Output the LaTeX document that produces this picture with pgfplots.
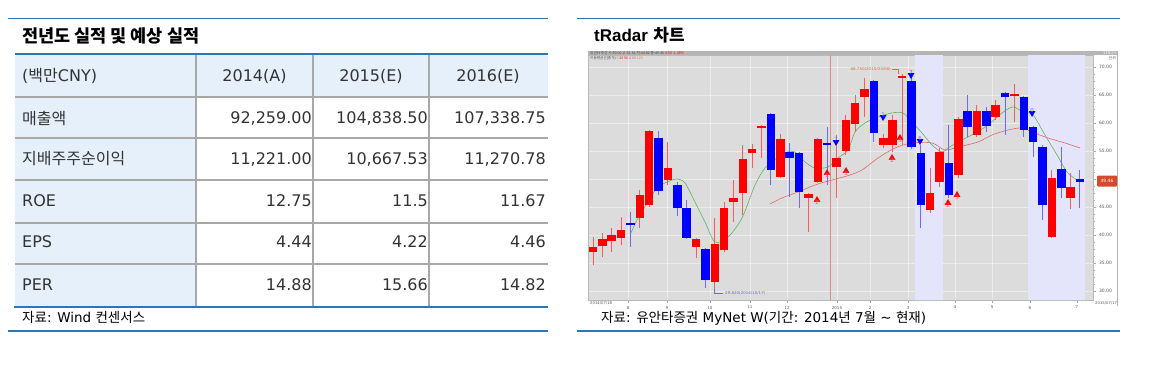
\documentclass[border=0pt]{standalone}
\usepackage{pgfplots}
\pgfplotsset{compat=1.18}
\usepackage{pgfplotstable}
\usepackage{fontspec}
\setmainfont{DejaVu Sans}
\newfontfamily\kr{Noto Sans CJK KR}
\newfontfamily\lib{Liberation Sans}
\definecolor{lineblue}{HTML}{2E75B6}
\definecolor{hdrbg}{HTML}{E5F0FB}
\definecolor{gridgray}{HTML}{A8A8A8}
\definecolor{txt}{HTML}{333333}
\definecolor{chartbg}{HTML}{DCDCDC}
\definecolor{lav}{HTML}{E4E4FA}
\definecolor{cred}{HTML}{FF0000}
\definecolor{cblue}{HTML}{0000FF}
\definecolor{wred}{HTML}{FF5A5A}
\definecolor{wblue}{HTML}{6A6AFF}
\definecolor{magreen}{HTML}{5DB55D}
\definecolor{mared}{HTML}{E06A6A}
\definecolor{pricebox}{HTML}{D9482B}

% candles: index, open, high, low, close
\pgfplotstableread{
i o h l c
1 36.96 39.64 34.64 37.86
2 38.04 40.36 36.07 39.29
3 38.93 41.25 36.96 40.00
4 39.46 43.21 38.21 40.89
6 43.04 48.04 41.25 47.14
7 45.36 58.75 45.00 58.57
9 49.82 56.61 48.93 51.96
12 37.86 39.46 35.89 39.29
14 31.61 43.04 29.82 38.39
15 37.32 45.89 36.96 44.82
16 45.89 49.82 42.32 46.61
17 47.50 56.07 43.57 53.57
18 54.64 56.25 51.96 55.36
19 59.15 59.64 53.75 59.46
21 50.36 58.04 50.18 57.14
24 46.61 47.50 40.54 47.32
25 49.46 57.30 49.29 57.14
27 52.14 57.86 46.61 53.75
28 55.00 61.43 54.29 60.54
29 59.82 65.00 58.39 63.57
30 64.64 68.04 61.07 66.07
32 56.07 58.00 55.50 57.32
33 56.07 61.43 54.82 60.54
34 68.04 68.75 56.07 68.39
37 44.46 51.96 43.93 47.50
38 49.46 55.54 48.57 54.82
40 50.71 61.07 50.18 60.71
42 57.86 63.21 57.50 62.14
44 61.07 64.11 60.54 63.21
46 64.82 66.96 60.18 65.18
50 39.64 51.61 39.50 50.18
52 46.61 51.07 44.64 48.57
}\redc
\pgfplotstableread{
i o h l c
5 42.14 44.11 37.86 41.79
8 57.32 58.57 47.14 47.86
10 48.93 49.46 43.39 44.82
11 44.82 46.25 39.29 39.46
13 37.50 37.60 30.54 31.96
20 61.61 61.70 48.93 51.61
22 54.82 56.43 46.79 53.75
23 54.64 54.80 44.82 47.68
26 56.43 59.29 48.93 56.07
31 67.50 67.60 56.61 58.21
35 67.50 68.21 55.36 55.71
36 54.64 56.07 41.25 45.36
39 52.86 59.64 46.61 47.14
41 62.14 65.00 57.50 59.29
43 62.14 62.86 58.39 59.46
45 65.36 65.50 57.86 64.64
47 64.64 64.82 57.50 58.75
48 59.29 59.40 53.93 56.61
49 55.71 56.07 42.68 45.36
51 51.79 55.71 46.61 48.39
53 50.00 51.61 44.82 49.46
}\bluec
% short moving average
\pgfplotstableread{
i p
4.95 40.00
5.81 43.04
6.87 45.89
7.83 48.39
8.90 49.46
9.97 50.00
10.82 49.29
11.89 45.89
12.96 42.32
14.03 38.75
15.42 39.64
16.91 43.04
18.30 48.93
19.37 51.96
20.65 53.75
21.72 54.82
22.57 54.82
23.64 53.04
24.71 51.96
26.09 52.14
27.16 53.75
28.23 55.18
28.98 58.39
30.04 60.00
31.43 61.07
32.93 61.79
34.10 61.79
35.06 60.18
36.13 58.21
37.20 56.07
38.27 54.82
38.91 55.54
39.98 56.61
41.04 57.50
42.11 58.50
43.18 59.64
44.67 61.79
45.85 62.86
46.92 61.96
47.98 61.43
49.26 57.86
50.55 54.29
51.61 51.25
52.68 49.82
}\mafast
% long moving average
\pgfplotstableread{
i p
19.90 45.54
21.18 46.61
22.89 47.68
24.71 48.93
26.52 49.82
28.23 50.60
29.72 51.61
31.43 53.75
33.25 55.54
35.06 56.43
37.20 56.43
38.59 55.18
39.98 55.71
42.11 56.61
43.61 57.86
45.31 58.75
46.81 59.11
47.88 58.39
49.59 57.32
51.40 56.43
53.00 55.54
}\maslow
\pgfplotstableread{
i p lab
24.92 46.25 2
25.99 51.07 1
28.02 51.43 1
32.93 53.75 2
33.78 57.32 3
38.91 45.71 2
39.87 47.14 3
}\buys
\pgfplotstableread{
i p lab
26.95 56.61 7
31.97 61.07 1
34.96 68.57 7
35.92 56.79 6
47.88 61.79 0
}\sells

\begin{document}
\begin{tikzpicture}[x=1pt,y=1pt]
\fill[white] (0,0) rectangle (1159,-376);

% ================= LEFT TABLE =================
\draw[lineblue, line width=1.6] (8,-18.5) -- (548,-18.5);
\node[anchor=west, inner sep=0, text=black, font=\kr\bfseries\fontsize{17.5}{18}\selectfont] at (22,-35.5) {전년도 실적 및 예상 실적};
\fill[hdrbg] (15,-54) rectangle (548,-97);
\fill[hdrbg] (15,-97) rectangle (196,-307);
\foreach \yy in {97,138,180,223,264} \draw[gridgray, line width=1.4] (15,-\yy) -- (548,-\yy);
\draw[gridgray, line width=1.5] (196,-54) -- (196,-307);
\draw[gridgray, line width=1.5] (313,-54) -- (313,-307);
\draw[gridgray, line width=2.2] (429,-54) -- (429,-307);
\draw[lineblue, line width=2.6] (15,-54) -- (548,-54);
\draw[lineblue, line width=2] (14,-307) -- (548,-307);
\begin{scope}[every node/.style={inner sep=0, text=txt, font=\fontsize{16}{17}\selectfont}]
\node[anchor=west] at (22,-76) {({\kr 백만}CNY)};
\node at (254.5,-76) {2014(A)};
\node at (371,-76) {2015(E)};
\node at (488,-76) {2016(E)};
\node[anchor=west] at (22,-118) {\kr 매출액};
\node[anchor=west] at (22,-159) {\kr 지배주주순이익};
\node[anchor=west] at (22,-201) {ROE};
\node[anchor=west] at (22,-242) {EPS};
\node[anchor=west] at (22,-285) {PER};
\node[anchor=east] at (312,-118) {92,259.00};
\node[anchor=east] at (428,-118) {104,838.50};
\node[anchor=east] at (546,-118) {107,338.75};
\node[anchor=east] at (312,-159) {11,221.00};
\node[anchor=east] at (428,-159) {10,667.53};
\node[anchor=east] at (546,-159) {11,270.78};
\node[anchor=east] at (312,-201) {12.75};
\node[anchor=east] at (428,-201) {11.5};
\node[anchor=east] at (546,-201) {11.67};
\node[anchor=east] at (312,-242) {4.44};
\node[anchor=east] at (428,-242) {4.22};
\node[anchor=east] at (546,-242) {4.46};
\node[anchor=east] at (312,-285) {14.88};
\node[anchor=east] at (428,-285) {15.66};
\node[anchor=east] at (546,-285) {14.82};
\end{scope}
\node[anchor=west, inner sep=0, text=black, font=\fontsize{13.5}{14}\selectfont] at (22,-317) {{\kr 자료}: Wind {\kr 컨센서스}};
\draw[lineblue, line width=1.6] (8,-331) -- (548,-331);

% ================= RIGHT CHART =================
\draw[lineblue, line width=1.6] (577,-18.5) -- (1120,-18.5);
\node[anchor=west, inner sep=0, text=black, font=\fontsize{17}{18}\selectfont] at (594,-35.5) {{\lib\bfseries tRadar} {\kr\bfseries 차트}};
\fill[gray!58] (588,-50.5) rectangle (1118,-55);

\begin{axis}[
  at={(588pt,-300pt)}, anchor=south west,
  width=505pt, height=245pt, scale only axis,
  xmin=0.466, xmax=54.39, ymin=28.39, ymax=72.14,
  clip mode=individual,
  axis background/.style={fill=chartbg},
  axis line style={draw=gray!55, line width=0.5pt},
  ytick={30,35,40,45,50,55,60,65,70},
  yticklabels={30.00,35.00,40.00,45.00,50.00,55.00,60.00,65.00,70.00},
  minor y tick num=3,
  yticklabel pos=right, ytick pos=right,
  xtick={4.74,8.90,13.49,17.76,21.72,27.05,30.58,34.64,39.65,43.61,47.66,52.68},
  xticklabels={8,9,10,11,12,2015,2,3,4,5,6,7},
  xtick pos=bottom,
  tick style={gray!70, line width=0.4pt},
  tick align=outside, major tick length=2.5pt, minor tick length=1.5pt,
  grid=major, grid style={white, opacity=0.45, line width=0.5pt},
  xticklabel style={font=\fontsize{4}{4}\selectfont, text=gray!70!black},
  yticklabel style={font=\fontsize{4.5}{5}\selectfont, text=gray!70!black},
  /pgf/number format/assume math mode=true,
]
% shaded periods
\addplot[fill=lav, draw=none, forget plot] coordinates {(35.38,28.39) (35.38,72.14) (38.37,72.14) (38.37,28.39) (35.38,28.39)};
\addplot[fill=lav, draw=none, forget plot] coordinates {(47.45,28.39) (47.45,72.14) (53.54,72.14) (53.54,28.39) (47.45,28.39)};
% year divider
\addplot[mared!80, line width=0.7pt, forget plot] coordinates {(26.31,28.39) (26.31,72.14)};
% moving averages
\addplot[magreen, line width=0.6pt, smooth, forget plot] table[x=i, y=p] {\mafast};
\addplot[mared, line width=0.6pt, smooth, forget plot] table[x=i, y=p] {\maslow};
% wicks
\addplot[draw=none, mark=none, forget plot,
  error bars/.cd, y dir=plus, y explicit, error mark=none,
  error bar style={draw=wred, line width=1pt}]
  table[x=i, y=l, y error plus expr={\thisrow{h}-\thisrow{l}}] {\redc};
\addplot[draw=none, mark=none, forget plot,
  error bars/.cd, y dir=plus, y explicit, error mark=none,
  error bar style={draw=wblue, line width=1pt}]
  table[x=i, y=l, y error plus expr={\thisrow{h}-\thisrow{l}}] {\bluec};
% bodies
\addplot[draw=none, mark=none, forget plot,
  error bars/.cd, y dir=plus, y explicit, error mark=none,
  error bar style={draw=cred, line width=8.5pt}]
  table[x=i, y=o, y error plus expr={\thisrow{c}-\thisrow{o}}] {\redc};
\addplot[draw=none, mark=none, forget plot,
  error bars/.cd, y dir=plus, y explicit, error mark=none,
  error bar style={draw=cblue, line width=8.5pt}]
  table[x=i, y=c, y error plus expr={\thisrow{o}-\thisrow{c}}] {\bluec};
% signals
\addplot[only marks, mark=triangle*, mark size=3.5pt, color=cred, forget plot,
  point meta=explicit symbolic, nodes near coords, nodes near coords align=below,
  every node near coord/.style={font=\fontsize{5.5}{6}\selectfont, text=wred, inner sep=0.6pt}]
  table[x=i, y=p, meta=lab] {\buys};
\addplot[only marks, mark=triangle*, mark size=3.5pt, color=cblue, mark options={rotate=180}, forget plot,
  point meta=explicit symbolic, nodes near coords, nodes near coords align=above,
  every node near coord/.style={font=\fontsize{5.5}{6}\selectfont, text=wblue, inner sep=0.6pt}]
  table[x=i, y=p, meta=lab] {\sells};
\end{axis}

% right price panel frame
\draw[gray!60, line width=0.5] (1117.5,-50.5) -- (1117.5,-306);
\node[fill=pricebox, rounded corners=1pt, text=white, inner sep=0, minimum width=20, minimum height=11, font=\fontsize{4.5}{5}\selectfont] at (1107,-181) {49.46};
% header tiny texts
\node[anchor=west, inner sep=0, font=\kr\fontsize{3.6}{4}\selectfont, text=black!75] at (590,-52.8) {유안타 주간 시:50.00 고:51.61 저:44.82 종:49.46 \textcolor{red}{0.54 -1.08\%}};
\node[anchor=west, inner sep=0, font=\kr\fontsize{3.6}{4}\selectfont, text=black!70] at (590,-58.3) {이동평균선(종가) \textcolor{magreen}{5} \textcolor{red}{20 56.1} \textcolor{violet!60}{60} \textcolor{orange}{120}};
\node[anchor=east, inner sep=0, font=\fontsize{3.6}{4}\selectfont, text=white] at (1116,-52.8) {119.23};
\node[anchor=east, inner sep=0, font=\kr\fontsize{3.6}{4}\selectfont, text=black!70] at (1116,-58.3) {단위};
% bottom date labels
\node[anchor=west, inner sep=0, font=\fontsize{3.8}{4}\selectfont, text=gray!70!black] at (590,-303.5) {2014/07/18};
\node[anchor=west, inner sep=0, font=\fontsize{3.8}{4}\selectfont, text=gray!70!black] at (1095,-303.5) {2015/07/17};
% high / low annotations
\node[anchor=east, inner sep=0, font=\fontsize{4}{4}\selectfont, text=wred] at (891,-69) {68.750(2015/03/06)};
\draw[wred, line width=0.4] (892,-69) -- (898,-69) -- (898,-74);
\draw[wblue, line width=0.4] (714.5,-289) -- (714.5,-293) -- (723,-293);
\node[anchor=west, inner sep=0, font=\fontsize{4}{4}\selectfont, text=wblue] at (725,-293) {29.820(2014/10/17)};
% source and bottom line
\node[anchor=west, inner sep=0, text=black, font=\fontsize{13.5}{14}\selectfont] at (601,-318) {{\kr 자료}: {\kr 유안타증권} MyNet W({\kr 기간}: 2014{\kr 년} 7{\kr 월} \textasciitilde{} {\kr 현재})};
\draw[lineblue, line width=1.6] (577,-331) -- (1120,-331);
\end{tikzpicture}
\end{document}
